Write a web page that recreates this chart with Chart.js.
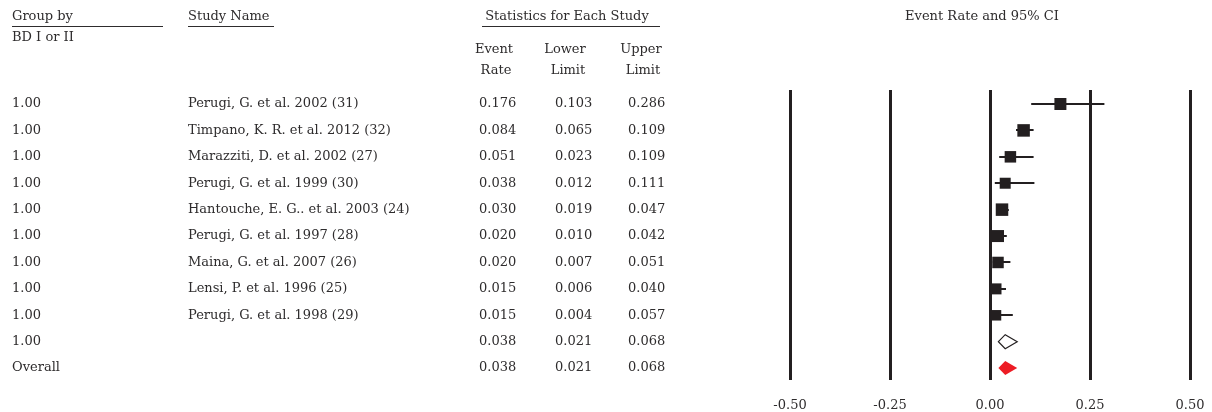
<!DOCTYPE html>
<html>
<head>
<meta charset="utf-8">
<script src="https://cdn.jsdelivr.net/npm/chart.js@4.4.1/dist/chart.umd.min.js"></script>
<style>
  html, body { margin: 0; padding: 0; background: #fff; }
  #wrap { width: 1212px; height: 412px; }
</style>
</head>
<body>
<div id="wrap"><canvas id="forest" width="1212" height="412"></canvas></div>
<script>
// rows, top to bottom
const groups = ['1.00', '1.00', '1.00', '1.00', '1.00', '1.00', '1.00', '1.00', '1.00', '1.00', 'Overall'];
const studies = [
  'Perugi, G. et al. 2002 (31)',
  'Timpano, K. R. et al. 2012 (32)',
  'Marazziti, D. et al. 2002 (27)',
  'Perugi, G. et al. 1999 (30)',
  'Hantouche, E. G.. et al. 2003 (24)',
  'Perugi, G. et al. 1997 (28)',
  'Maina, G. et al. 2007 (26)',
  'Lensi, P. et al. 1996 (25)',
  'Perugi, G. et al. 1998 (29)',
  '',
  ''
];
const eventRate = [0.176, 0.084, 0.051, 0.038, 0.030, 0.020, 0.020, 0.015, 0.015, 0.038, 0.038];
const lowerLimit = [0.103, 0.065, 0.023, 0.012, 0.019, 0.010, 0.007, 0.006, 0.004, 0.021, 0.021];
const upperLimit = [0.286, 0.109, 0.109, 0.111, 0.047, 0.042, 0.051, 0.040, 0.057, 0.068, 0.068];
const rowKind = ['study', 'study', 'study', 'study', 'study', 'study', 'study', 'study', 'study', 'summary', 'overall'];
const xTicks = [-0.50, -0.25, 0.00, 0.25, 0.50];

// styling
const ink = '#231f20';
const textColor = '#2e2c2d';
const font = '"DejaVu Serif", serif';
const fontSize = 13;
const boxSide = [12, 12.5, 11.5, 11, 12.5, 12, 11.5, 11, 10.5];
const colX = { group: 12, study: 188, rate: 479, lower: 555, upper: 628 };

const studyRows = eventRate.map((v, i) => ({ x: v, y: i })).filter((p, i) => rowKind[i] === 'study');

const forestPlugin = {
  id: 'forest',
  beforeDatasetsDraw(chart) {
    const { ctx, scales: { x, y } } = chart;
    ctx.save();
    ctx.strokeStyle = ink;
    ctx.lineWidth = 2;
    rowKind.forEach((k, i) => {
      if (k !== 'study') return;
      const py = Math.round(y.getPixelForValue(i));
      ctx.beginPath();
      ctx.moveTo(x.getPixelForValue(lowerLimit[i]), py);
      ctx.lineTo(x.getPixelForValue(upperLimit[i]), py);
      ctx.stroke();
    });
    ctx.restore();
  },
  afterDatasetsDraw(chart) {
    const { ctx, scales: { x, y } } = chart;
    ctx.save();
    rowKind.forEach((k, i) => {
      if (k === 'study') return;
      const py = y.getPixelForValue(i);
      const l = x.getPixelForValue(lowerLimit[i]);
      const c = x.getPixelForValue(eventRate[i]);
      const r = x.getPixelForValue(upperLimit[i]);
      const h = 7;
      ctx.beginPath();
      ctx.moveTo(l, py);
      ctx.lineTo(c, py - h);
      ctx.lineTo(r, py);
      ctx.lineTo(c, py + h);
      ctx.closePath();
      if (k === 'overall') {
        ctx.fillStyle = '#ed1c24';
        ctx.fill();
      } else {
        ctx.fillStyle = '#fff';
        ctx.fill();
        ctx.strokeStyle = ink;
        ctx.lineWidth = 1.2;
        ctx.stroke();
      }
    });
    ctx.restore();
  },
  afterDraw(chart) {
    const { ctx, scales: { y } } = chart;
    ctx.save();
    ctx.fillStyle = textColor;
    ctx.font = fontSize + 'px ' + font;
    ctx.textBaseline = 'middle';

    // headers
    ctx.textAlign = 'left';
    ctx.fillText('Group by', colX.group, 17);
    ctx.fillText('BD I or II', colX.group, 38);
    ctx.fillText('Study Name', colX.study, 17);
    ctx.textAlign = 'center';
    ctx.fillText('Statistics for Each Study', 567, 17);
    ctx.fillText('Event Rate and 95% CI', 982, 17);
    ctx.fillText('Event', 494, 50);
    ctx.fillText('Rate', 496, 71);
    ctx.fillText('Lower', 565, 50);
    ctx.fillText('Limit', 568, 71);
    ctx.fillText('Upper', 641, 50);
    ctx.fillText('Limit', 643, 71);

    ctx.strokeStyle = textColor;
    ctx.lineWidth = 1;
    [[12, 163], [188, 274], [482, 660]].forEach(([a, b]) => {
      ctx.beginPath();
      ctx.moveTo(a, 26.5);
      ctx.lineTo(b, 26.5);
      ctx.stroke();
    });

    // rows
    ctx.textAlign = 'left';
    groups.forEach((g, i) => {
      const py = y.getPixelForValue(i);
      ctx.fillText(g, colX.group, py);
      ctx.fillText(studies[i], colX.study, py);
      ctx.fillText(eventRate[i].toFixed(3), colX.rate, py);
      ctx.fillText(lowerLimit[i].toFixed(3), colX.lower, py);
      ctx.fillText(upperLimit[i].toFixed(3), colX.upper, py);
    });
    ctx.restore();
  }
};

new Chart(document.getElementById('forest'), {
  type: 'scatter',
  data: {
    datasets: [{
      data: studyRows,
      pointStyle: 'rect',
      pointRadius: boxSide.map(s => s / Math.SQRT2),
      pointHoverRadius: boxSide.map(s => s / Math.SQRT2),
      backgroundColor: ink,
      borderColor: ink,
      borderWidth: 0
    }]
  },
  options: {
    responsive: false,
    animation: false,
    layout: { padding: { left: 790, right: 22, top: 90, bottom: 0 } },
    plugins: { legend: { display: false }, tooltip: { enabled: false } },
    scales: {
      x: {
        type: 'linear',
        min: xTicks[0],
        max: xTicks[xTicks.length - 1],
        afterBuildTicks: s => { s.ticks = xTicks.map(v => ({ value: v })); },
        afterFit: s => { s.height = 32; s.paddingLeft = 0; s.paddingRight = 0; },
        grid: { color: ink, lineWidth: 3, drawTicks: false },
        border: { display: false },
        ticks: {
          padding: 18,
          color: textColor,
          font: { family: font, size: fontSize },
          maxRotation: 0,
          callback: v => v.toFixed(2)
        }
      },
      y: {
        type: 'linear',
        display: false,
        reverse: true,
        min: -0.53,
        max: 10.45
      }
    }
  },
  plugins: [forestPlugin]
});
</script>
</body>
</html>
